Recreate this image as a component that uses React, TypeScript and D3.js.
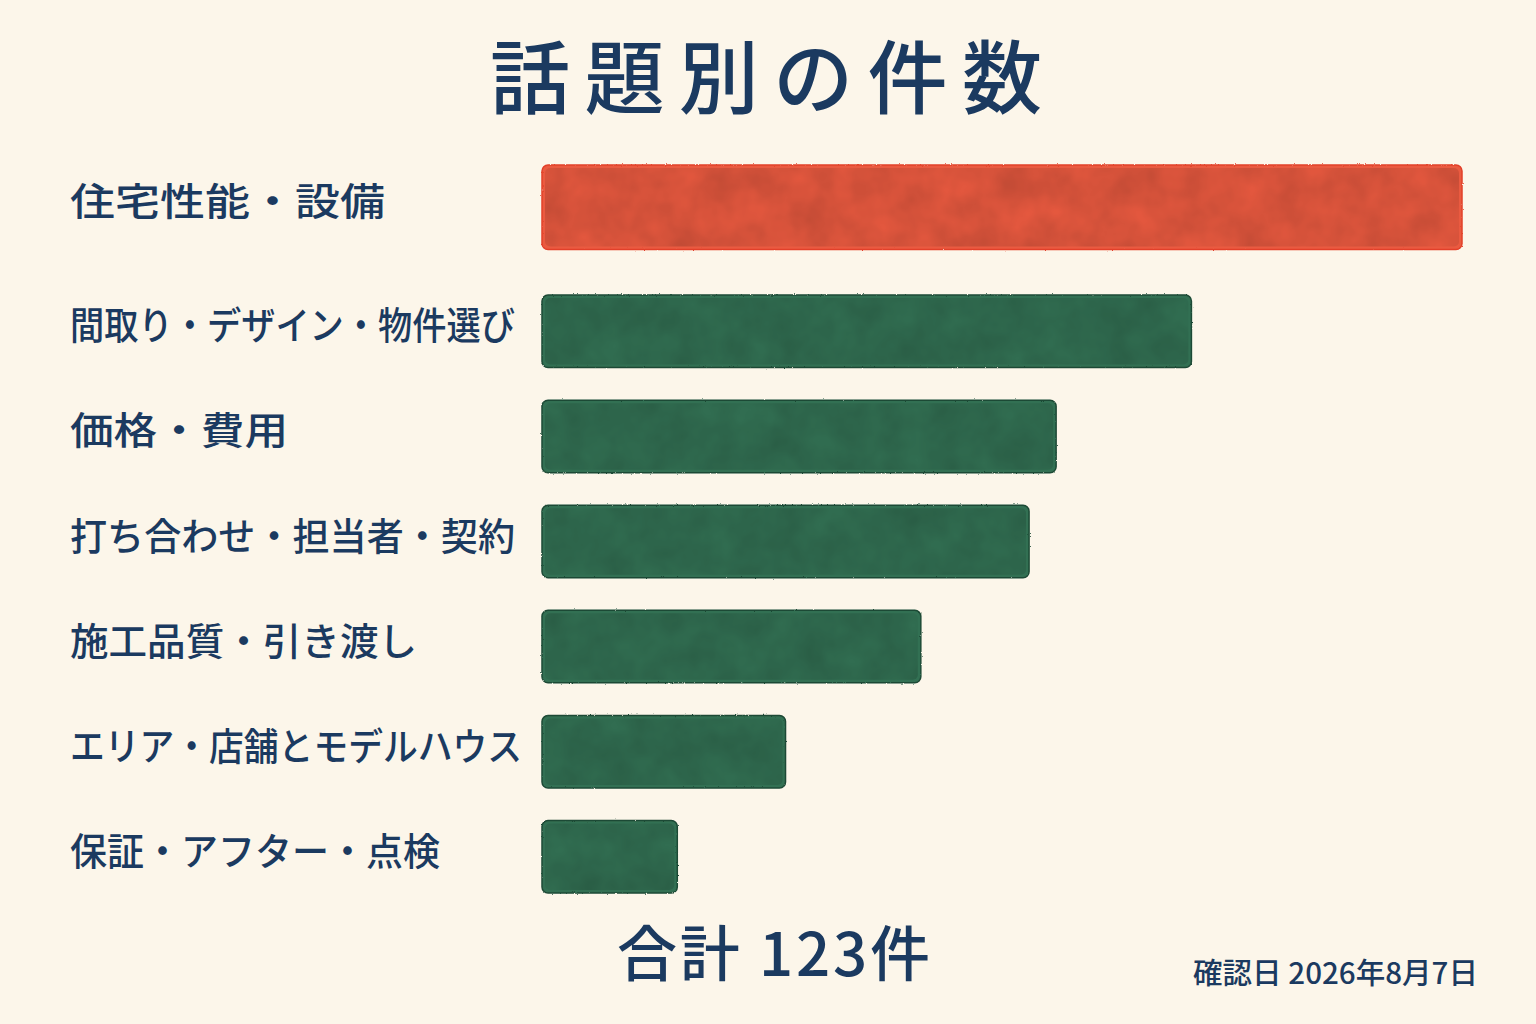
import { useEffect, useRef } from 'react';
import * as d3 from 'd3';

// Topic counts (total 123)
const CATEGORIES = [
  '住宅性能・設備',
  '間取り・デザイン・物件選び',
  '価格・費用',
  '打ち合わせ・担当者・契約',
  '施工品質・引き渡し',
  'エリア・店舗とモデルハウス',
  '保証・アフター・点検',
];
const COUNTS = [34, 24, 19, 18, 14, 9, 5];
// Rendered widths of each label in the reference (px), fitted with textLength
const LABEL_WIDTHS = [315, 445, 218, 445, 347, 452, 370];
const HIGHLIGHT = '住宅性能・設備';

const TITLE = '話題別の件数';
const TOTAL_LABEL = '合計 123件';
const DATE_LABEL = '確認日 2026年8月7日';

const WIDTH = 1536;
const HEIGHT = 1024;
const FONT = '"Noto Sans CJK JP", "Noto Sans", sans-serif';
const INK = '#1b3a60';
const BG = '#fcf6ea';

export default function App() {
  const svgRef = useRef<SVGSVGElement | null>(null);

  useEffect(() => {
    const svgEl = svgRef.current;
    if (!svgEl) return;
    const svg = d3.select(svgEl);
    svg.selectAll('*').remove();

    const defs = svg.append('defs');
    // watercolour-ish wobble on the edges
    const wobble = defs.append('filter').attr('id', 'wash').attr('x', '-5%').attr('y', '-10%').attr('width', '110%').attr('height', '120%');
    wobble
      .append('feTurbulence')
      .attr('type', 'fractalNoise')
      .attr('baseFrequency', 0.9)
      .attr('numOctaves', 2)
      .attr('seed', 3)
      .attr('result', 'noise');
    wobble
      .append('feDisplacementMap')
      .attr('in', 'SourceGraphic')
      .attr('in2', 'noise')
      .attr('scale', 2)
      .attr('xChannelSelector', 'R')
      .attr('yChannelSelector', 'G');

    // soft blotchy pigment
    const grain = defs.append('filter').attr('id', 'grain');
    grain
      .append('feTurbulence')
      .attr('type', 'fractalNoise')
      .attr('baseFrequency', 0.03)
      .attr('numOctaves', 3)
      .attr('seed', 7);
    grain.append('feColorMatrix').attr('type', 'matrix').attr('values', '0 0 0 0 0  0 0 0 0 0  0 0 0 0 0  0 0 0 0.18 0');
    grain.append('feComposite').attr('in2', 'SourceGraphic').attr('operator', 'in');

    svg.append('rect').attr('width', WIDTH).attr('height', HEIGHT).attr('fill', BG);

    const x = d3.scaleLinear().domain([0, d3.max(COUNTS) ?? 1]).range([542, 1462]);
    const y = d3.scaleBand<string>().domain(CATEGORIES).range([190, 893]).paddingInner(0.31).paddingOuter(0);

    // highlighted bar is painted a little larger and sits higher
    const barTop = (c: string) => (y(c) ?? 0) - (c === HIGHLIGHT ? 25 : 0);
    const barH = (c: string) => y.bandwidth() + (c === HIGHLIGHT ? 12 : 0);

    // ---- Title ------------------------------------------------------------
    svg
      .append('text')
      .attr('x', 766)
      .attr('y', 107)
      .attr('text-anchor', 'middle')
      .attr('font-family', FONT)
      .attr('font-weight', 500)
      .attr('font-size', 80)
      .attr('fill', INK)
      .attr('textLength', 552)
      .attr('lengthAdjust', 'spacing')
      .text(TITLE);

    // ---- Bars -------------------------------------------------------------
    const rows = CATEGORIES.map((c, i) => ({ c, v: COUNTS[i], w: LABEL_WIDTHS[i] }));

    svg
      .append('g')
      .attr('filter', 'url(#wash)')
      .selectAll('rect.bar')
      .data(rows)
      .join('rect')
      .attr('class', 'bar')
      .attr('x', x(0))
      .attr('y', (d) => barTop(d.c))
      .attr('width', (d) => x(d.v) - x(0))
      .attr('height', (d) => barH(d.c))
      .attr('rx', 6)
      .attr('fill', (d) => (d.c === HIGHLIGHT ? '#ea5a40' : '#336f52'))
      .attr('stroke', (d) => (d.c === HIGHLIGHT ? '#e2402a' : '#1d4a36'))
      .attr('stroke-width', 1.5);

    svg
      .append('g')
      .attr('filter', 'url(#grain)')
      .selectAll('rect')
      .data(rows)
      .join('rect')
      .attr('x', x(0) + 3)
      .attr('y', (d) => barTop(d.c) + 3)
      .attr('width', (d) => x(d.v) - x(0) - 6)
      .attr('height', (d) => barH(d.c) - 6)
      .attr('rx', 5)
      .attr('fill', (d) => (d.c === HIGHLIGHT ? '#c8321c' : '#174330'));

    // ---- Category labels --------------------------------------------------
    svg
      .append('g')
      .selectAll('text')
      .data(rows)
      .join('text')
      .attr('x', 70)
      .attr('y', (d) => barTop(d.c) + barH(d.c) / 2 + 8)
      .attr('font-family', FONT)
      .attr('font-weight', 500)
      .attr('font-size', 38)
      .attr('fill', INK)
      .attr('textLength', (d) => d.w)
      .attr('lengthAdjust', 'spacingAndGlyphs')
      .text((d) => d.c);

    // ---- Footer -----------------------------------------------------------
    svg
      .append('text')
      .attr('x', 617)
      .attr('y', 976)
      .attr('font-family', FONT)
      .attr('font-weight', 500)
      .attr('font-size', 60)
      .attr('fill', INK)
      .attr('textLength', 313)
      .attr('lengthAdjust', 'spacing')
      .text(TOTAL_LABEL);

    svg
      .append('text')
      .attr('x', 1193)
      .attr('y', 984)
      .attr('font-family', FONT)
      .attr('font-weight', 500)
      .attr('font-size', 29)
      .attr('fill', INK)
      .attr('textLength', 285)
      .attr('lengthAdjust', 'spacingAndGlyphs')
      .text(DATE_LABEL);
  }, []);

  return (
    <svg
      ref={svgRef}
      width={WIDTH}
      height={HEIGHT}
      viewBox={`0 0 ${WIDTH} ${HEIGHT}`}
      style={{ position: 'absolute', top: 0, left: 0, display: 'block' }}
    />
  );
}
